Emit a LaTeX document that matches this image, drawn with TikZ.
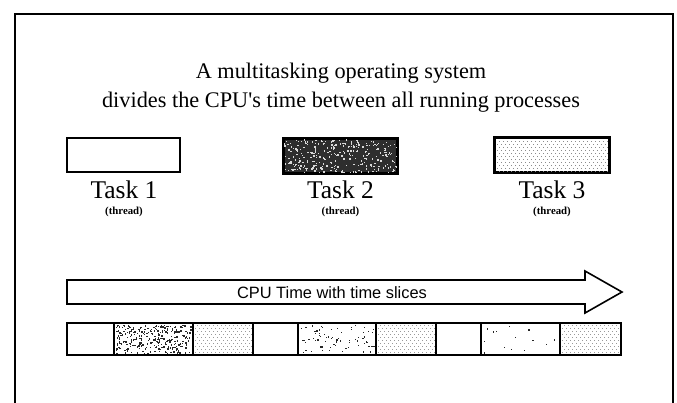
\documentclass[tikz,border=0pt]{standalone}
\usepackage{fontspec}
\setmainfont{Liberation Serif}[Ligatures=TeXOff]
\newfontfamily\arialf{Liberation Sans}
\begin{document}
\begin{tikzpicture}[x=1pt,y=-1pt,
  frame/.style={line width=2pt,line join=miter},
  taskbox/.style={draw,line width=1.8pt,minimum height=34pt,inner sep=0pt},
  slicebox/.style={draw,line width=1.6pt},
  tasklabel/.style={font=\fontsize{25.5}{28}\selectfont,anchor=base,inner sep=0pt},
  threadlabel/.style={font=\fontsize{10.8}{12}\selectfont\bfseries,anchor=base,inner sep=0pt},
  titletext/.style={font=\fontsize{22.3}{29}\selectfont,align=center,inner sep=0pt},
  arrowtext/.style={font=\arialf\fontsize{16.4}{18}\selectfont,anchor=base,inner sep=0pt},
  bigarrow/.style={draw,line width=1.6pt,line join=miter,fill=white}]
\useasboundingbox (0,0) rectangle (677,402);
\fill[white] (0,0) rectangle (677,402);
% outer frame
\draw[frame] (15,403) -- (15,14) -- (673,14) -- (673,403);
% title
\node[titletext] (title) at (341,88) {A multitasking operating system\\divides the CPU's time between all running processes};
% task boxes
\node[taskbox,minimum width=113pt] (t1) at (123.5,155) {};
\node[taskbox,minimum width=113pt,fill=black!82] (t2) at (340.5,156) {};
\node[taskbox,minimum width=114pt] (t3) at (552,155) {};
% task 2 noise
\pgfmathsetseed{7}
\begin{scope}
\clip (t2.south west) rectangle (t2.north east);
\foreach \i in {1,...,300}{
  \pgfmathsetmacro\rx{284+113*rnd}
  \pgfmathsetmacro\ry{139+34*rnd}
  \fill[white!70!gray] (\rx,\ry) rectangle ++(1.3,1.3);
}
\end{scope}
\draw[line width=1.8pt] (t2.south west) rectangle (t2.north east);
% task 3 dots
\begin{scope}
\clip (t3.south west) rectangle (t3.north east);
\foreach \yy [count=\k] in {141,144,...,171}{
  \pgfmathsetmacro\off{mod(\k,2)*2}
  \foreach \xx in {497,501,...,609}{
    \fill[black!45] (\xx+\off,\yy) rectangle ++(1,1);
  }
}
\end{scope}
\draw[line width=1.8pt] (t3.south west) rectangle (t3.north east);
% task labels
\node[tasklabel] (l1) at (124,198.5) {Task 1};
\node[tasklabel] (l2) at (340.5,198.5) {Task 2};
\node[tasklabel] (l3) at (552,198.5) {Task 3};
\node[threadlabel] (th1) at (124,214) {(thread)};
\node[threadlabel] (th2) at (340.5,214) {(thread)};
\node[threadlabel] (th3) at (552,214) {(thread)};
% big arrow
\draw[bigarrow] (67,280) -- (585,280) -- (585,271) -- (622,292) -- (585,313) -- (585,304) -- (67,304) -- cycle;
\node[arrowtext] (cpu) at (332,298) {CPU Time with time slices};
% time slices
\def\sy{323}\def\sY{355}
% dotted slices
\foreach \a/\b in {193/253,376/436,560/621}{
  \begin{scope}
  \clip (\a,\sy) rectangle (\b,\sY);
  \foreach \yy [count=\k] in {325,328,...,355}{
    \pgfmathsetmacro\off{mod(\k,2)*2}
    \foreach \xx in {\a,...,\b}{
      \pgfmathsetmacro\xm{mod(\xx-\a,4)}
      \ifdim\xm pt=2pt
        \fill[black!40] (\xx+\off,\yy) rectangle ++(1,1);
      \fi
    }
  }
  \end{scope}
}
% noisy slices
\pgfmathsetseed{11}
\foreach \a/\b/\n in {114/193/300,298/376/70,481/560/14}{
  \begin{scope}
  \clip (\a,\sy) rectangle (\b,\sY);
  \foreach \i in {1,...,\n}{
    \pgfmathsetmacro\rx{\a+2+(\b-\a-4)*rnd}
    \pgfmathsetmacro\ry{\sy+2+28*rnd}
    \fill[black!85] (\rx,\ry) rectangle ++(1.3,1.3);
  }
  \end{scope}
}
\draw[slicebox] (67,\sy) rectangle (621,\sY);
\foreach \xx in {114,193,253,298,376,436,481,560}{
  \draw[line width=1.6pt] (\xx,\sy) -- (\xx,\sY);
}
\end{tikzpicture}
\end{document}
